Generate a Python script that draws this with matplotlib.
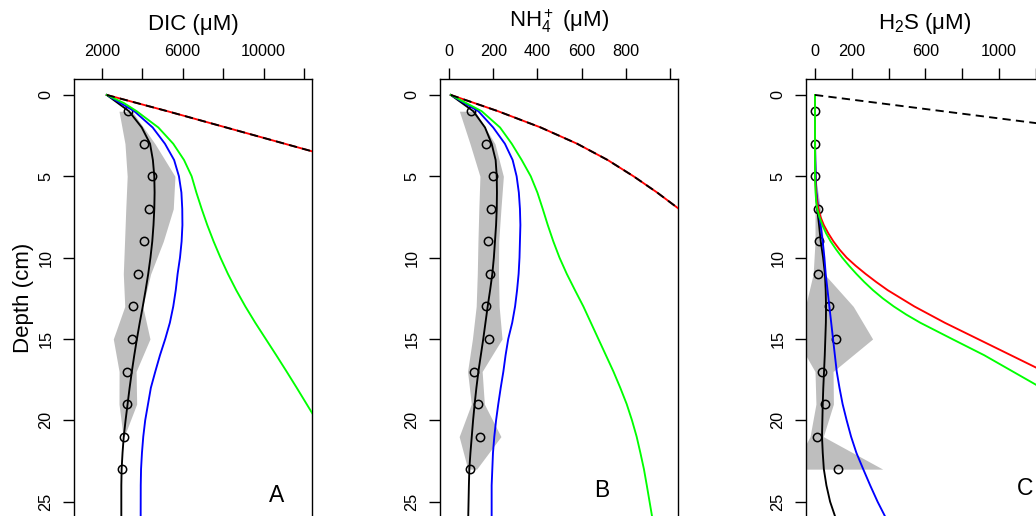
import matplotlib
matplotlib.use("Agg")
import matplotlib.pyplot as plt

plt.rcParams['font.family'] = ['Liberation Sans', 'DejaVu Sans']
plt.rcParams['mathtext.fontset'] = 'custom'
plt.rcParams['mathtext.rm'] = 'Liberation Sans'
plt.rcParams['mathtext.it'] = 'Liberation Sans:italic'
plt.rcParams['mathtext.bf'] = 'Liberation Sans:bold'

# ---------------- observations (shared depths) ----------------
obs_depth = [1, 3, 5, 7, 9, 11, 13, 15, 17, 19, 21, 23]

# ---------------- Panel A : DIC ----------------
dic_obs = [3290, 4070, 4510, 4350, 4080, 3808, 3531, 3490, 3265, 3265, 3087, 3025]
dic_band_depth = [1, 3, 5, 7, 9, 11, 13, 15, 17, 19, 21]
dic_band_lo = [2855, 3151, 3260, 3190, 3130, 3068, 3140, 2573, 2860, 2855, 3060]
dic_band_hi = [3500, 4633, 5621, 5537, 5044, 4420, 4030, 4386, 3700, 3729, 3110]

model_depth = [0, 1, 2, 3, 4, 5, 6, 7, 8, 9, 10, 11, 12, 13, 14, 15, 16, 17, 18,
               19, 20, 21, 22, 23, 24, 26]
dic_black = [2250, 3350, 3980, 4390, 4530, 4600, 4615, 4600, 4560, 4500, 4410, 4300,
             4170, 4030, 3880, 3740, 3610, 3490, 3380, 3280, 3180, 3090, 3030, 2985,
             2970, 2970]
dic_blue = [2250, 3613, 4520, 5127, 5580, 5818, 5940, 5982, 5990, 5950, 5870, 5752,
            5660, 5537, 5370, 5140, 4880, 4650, 4430, 4290, 4150, 4055, 3990, 3945,
            3930, 3926]
dic_green_depth = [0, 0.5, 1, 2, 3, 4, 5, 6, 7, 8, 9, 10, 11, 12, 13, 14, 15, 16, 17,
                   18, 19, 20, 21]
dic_green = [2250, 3100, 3729, 4800, 5537, 6070, 6446, 6680, 6940, 7220, 7530, 7870,
             8240, 8650, 9100, 9590, 10110, 10630, 11140, 11640, 12130, 12620, 13100]
dic_red_depth = [0, 1, 2, 3, 4]
dic_red = [2250, 5250, 8150, 11050, 13950]

# ---------------- Panel B : NH4+ ----------------
nh4_obs = [100, 167, 199, 190, 175, 187, 167, 180, 115, 130, 139, 97]
nh4_band_lo = [47, 95, 140, 135, 131, 128, 123, 106, 84, 101, 46, 85]
nh4_band_hi = [118, 208, 246, 235, 225, 224, 227, 240, 150, 160, 235, 125]
nh4_black = [8, 110, 163, 193, 211, 216, 217, 216, 213, 208, 203, 196, 186, 175, 165,
             155, 144, 133, 124, 116, 109, 103, 97, 92, 90, 87]
nh4_blue = [8, 133, 200, 253, 288, 306, 316, 321, 323, 321, 319, 315, 308, 299, 286,
            268, 256, 246, 234, 223, 213, 205, 199, 196, 193, 193]
nh4_green = [8, 148, 231, 284, 329, 370, 400, 424, 447, 472, 500, 533, 570, 608, 642,
             676, 710, 744, 775, 804, 828, 849, 866, 882, 895, 920]
nh4_red_depth = [0, 1, 2, 3, 4, 5, 6, 7, 8]
nh4_red = [8, 222, 415, 580, 718, 835, 942, 1040, 1135]

# ---------------- Panel C : H2S ----------------
h2s_obs = [0, 0, 0, 15, 22, 15, 78, 112, 38, 53, 9, 123]
h2s_band_lo = [0, 0, -3, 0, 0, -10, -52, -101, 0, 5, -27, -122]
h2s_band_hi = [0, 0, 3, 30, 45, 50, 208, 313, 98, 100, 45, 368]
h2s_black_depth = [0, 2, 4, 5, 6, 7, 8, 9, 10, 11, 12, 13, 14, 15, 16, 17, 18, 19, 20,
                   21, 22, 23, 24, 25, 26]
h2s_black = [0, 0, 1, 3, 6, 12, 22, 31, 44, 54, 58, 60, 59, 56, 53, 49, 45, 42, 40,
             38, 42, 48, 62, 82, 112]
h2s_blue_depth = [0, 3, 5, 6, 7, 8, 9, 10, 11, 12, 13, 14, 15, 16, 17, 18, 19, 20, 21,
                  22, 23, 24, 25, 26]
h2s_blue = [0, 0, 3, 8, 18, 30, 42, 51, 58, 68, 78, 88, 98, 108, 118, 133, 150, 172,
            196, 225, 262, 300, 340, 385]
h2s_red_depth = [0, 3, 5, 6, 6.5, 7, 7.5, 8, 8.5, 9, 9.5, 10, 10.5, 11, 11.5, 12, 13,
                 14, 15, 16, 17, 18]
h2s_red = [0, 0, 1, 5, 10, 18, 30, 48, 72, 100, 133, 172, 221, 275, 333, 395, 540,
           705, 885, 1065, 1245, 1430]
h2s_green_depth = [0, 5, 6, 6.5, 7, 7.5, 8, 8.5, 9, 9.5, 10, 10.5, 11, 11.5, 12, 12.5,
                   13, 13.5, 14, 15, 16, 17, 18, 19]
h2s_green = [0, 0, 3, 6, 12, 24, 40, 60, 85, 115, 148, 185, 225, 268, 315, 368, 428,
             496, 572, 745, 920, 1075, 1230, 1385]
h2s_dash_depth = [0, 1, 2]
h2s_dash = [0, 694, 1388]

# ---------------- axis ticks ----------------
dic_ticks = [2000, 4000, 6000, 8000, 10000, 12000]
dic_ticklabels = ['2000', '', '6000', '', '10000', '']
nh4_ticks = [0, 200, 400, 600, 800, 1000]
nh4_ticklabels = ['0', '200', '400', '600', '800', '']
h2s_ticks = [0, 200, 400, 600, 800, 1000, 1200]
h2s_ticklabels = ['0', '200', '', '600', '', '1000', '']
depth_ticks = [0, 5, 10, 15, 20, 25]

# ---------------- figure ----------------
W, H = 1036, 516
fig = plt.figure(figsize=(W / 100, H / 100), dpi=100)

TOP = 79
YLIM = (25.88, -0.98)
LW = 1.35
GREY = '#BEBEBE'


def make_axes(left_px, width_px):
    return fig.add_axes([left_px / W, 0, width_px / W, 1 - TOP / H])


def style(ax, xlim, ticks, labels):
    ax.set_xlim(*xlim)
    ax.set_ylim(*YLIM)
    ax.xaxis.tick_top()
    ax.set_xticks(ticks)
    ax.set_xticklabels(labels)
    ax.set_yticks(depth_ticks)
    ax.set_yticklabels([str(t) for t in depth_ticks])
    ax.tick_params(axis='both', direction='out', length=7.7, width=1.0,
                   labelsize=11.7, color='black')
    ax.tick_params(axis='x', pad=6.5)
    ax.tick_params(axis='y', pad=7.0, labelrotation=90)
    plt.setp(ax.get_yticklabels(), va='center')
    ax.spines['bottom'].set_visible(False)
    for s in ['left', 'right', 'top']:
        ax.spines[s].set_linewidth(1.0)


def circles(ax, x, y):
    ax.plot(x, y, 'o', ms=6.0, mfc='none', mec='black', mew=1.1, zorder=4)


# ---- A ----
axA = make_axes(74, 238)
style(axA, (631, 12395), dic_ticks, dic_ticklabels)
axA.fill_betweenx(dic_band_depth, dic_band_lo, dic_band_hi, color=GREY, lw=0, zorder=1)
axA.plot(dic_black, model_depth, color='black', lw=LW, zorder=3)
circles(axA, dic_obs, obs_depth)
axA.plot(dic_blue, model_depth, color='#0000FF', lw=LW, zorder=5)
axA.plot(dic_red, dic_red_depth, color='#FF0000', lw=LW, zorder=6)
axA.plot(dic_green, dic_green_depth, color='#00FF00', lw=LW, zorder=7)
axA.plot(dic_red, dic_red_depth, color='black', lw=LW, ls=(0, (4.4, 2.8)), zorder=8)
axA.text(10645, 25.0, 'A', fontsize=16.5, ha='center', va='baseline')

# ---- B ----
axB = make_axes(440, 237.7)
style(axB, (-40.7, 1034.8), nh4_ticks, nh4_ticklabels)
axB.fill_betweenx(obs_depth, nh4_band_lo, nh4_band_hi, color=GREY, lw=0, zorder=1)
axB.plot(nh4_black, model_depth, color='black', lw=LW, zorder=3)
circles(axB, nh4_obs, obs_depth)
axB.plot(nh4_blue, model_depth, color='#0000FF', lw=LW, zorder=5)
axB.plot(nh4_red, nh4_red_depth, color='#FF0000', lw=LW, zorder=6)
axB.plot(nh4_green, model_depth, color='#00FF00', lw=LW, zorder=7)
axB.plot(nh4_red, nh4_red_depth, color='black', lw=LW, ls=(0, (4.4, 2.8)), zorder=8)
axB.text(691, 24.7, 'B', fontsize=16.5, ha='center', va='baseline')

# ---- C ----
axC = make_axes(805.7, 237.8)
style(axC, (-50.6, 1241.8), h2s_ticks, h2s_ticklabels)
axC.fill_betweenx(obs_depth, h2s_band_lo, h2s_band_hi, color=GREY, lw=0, zorder=1)
axC.plot(h2s_black, h2s_black_depth, color='black', lw=LW, zorder=3)
circles(axC, h2s_obs, obs_depth)
axC.plot(h2s_blue, h2s_blue_depth, color='#0000FF', lw=LW, zorder=5)
axC.plot(h2s_red, h2s_red_depth, color='#FF0000', lw=LW, zorder=6)
axC.plot(h2s_green, h2s_green_depth, color='#00FF00', lw=LW, zorder=7)
axC.plot(h2s_dash, h2s_dash_depth, color='black', lw=LW, ls=(0, (4.4, 2.8)), zorder=8)
axC.text(1141, 24.6, 'C', fontsize=16.5, ha='center', va='baseline')

# ---- titles / labels ----
fig.text(193 / W, 1 - 30 / H, 'DIC (μM)', fontsize=16, ha='center', va='baseline')
fig.text(559 / W, 1 - 26.7 / H, r'$\mathrm{NH}_4^+$ (μM)', fontsize=16, ha='center',
         va='baseline')
fig.text(925 / W, 1 - 29.3 / H, r'$\mathrm{H_2S}$ (μM)', fontsize=16, ha='center',
         va='baseline')
fig.text(23 / W, 1 - 297.5 / H, 'Depth (cm)', fontsize=16, rotation=90, ha='center',
         va='center')

fig.savefig('out.png', dpi=100)
